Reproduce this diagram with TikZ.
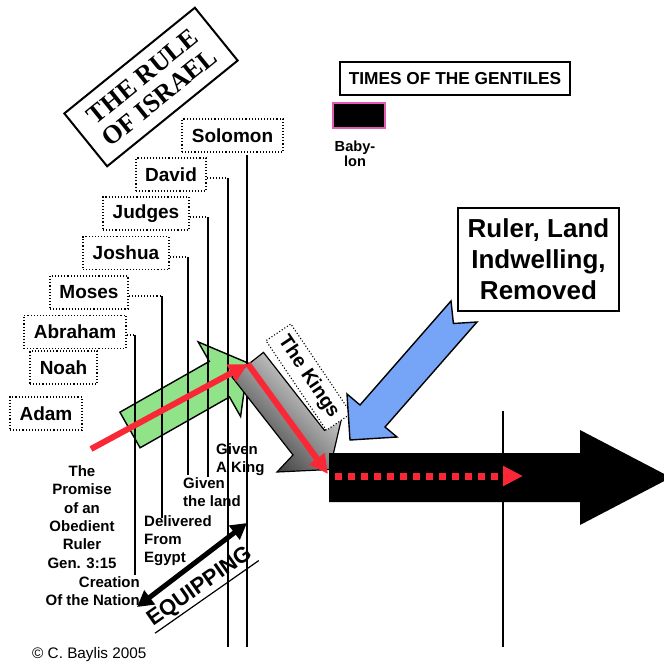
\documentclass[tikz,border=0pt]{standalone}
\usepackage{fontspec}
\setmainfont{Liberation Sans}
\newfontfamily\titlefont{Liberation Serif}
\usetikzlibrary{arrows.meta}
\definecolor{grn}{RGB}{145,227,137}
\definecolor{blu}{RGB}{118,165,247}
\definecolor{redl}{RGB}{250,40,55}
\definecolor{pnk}{RGB}{226,92,178}
\begin{document}
\begin{tikzpicture}[x=1pt,y=-1pt,
  namebox/.style={draw, dotted, line width=1.1pt, fill=white, inner sep=0pt, minimum height=33pt, font=\fontsize{19}{22}\selectfont\bfseries},
  conn/.style={dotted, line width=1.1pt},
  vline/.style={line width=1.3pt},
  lbl/.style={inner sep=0pt, font=\fontsize{15}{18}\selectfont\bfseries},
  blockarrow/.style={draw=black, line width=1.4pt, line join=miter},
  redarrow/.style={draw=redl, line width=6pt, -{Triangle[length=19pt,width=18pt]}},
  plainbox/.style={draw, fill=white, inner sep=0pt}
]
\useasboundingbox (0,0) rectangle (664,667);
\clip (0,0) rectangle (664,667);
\fill[white] (0,0) rectangle (664,667);

% title
\node[plainbox, line width=2pt, rotate=39, minimum width=168pt, minimum height=68pt, align=center,
  font=\titlefont\fontsize{26}{27}\selectfont\bfseries] (title) at (151,87) {THE RULE\\OF ISRAEL};

% green arrow
\fill[grn, blockarrow] (119.9,412.2) -- (209.3,361.4) -- (198.2,341.9) -- (248,363) -- (240.6,416.5) -- (229.5,397) -- (140.1,447.8) -- cycle;

% name boxes
\node[namebox, minimum width=101pt] (solomon) at (232.5,135.5) {Solomon};
\node[namebox, minimum width=70pt] (david) at (171,174.5) {David};
\node[namebox, minimum width=86pt] (judges) at (146,213.5) {Judges};
\node[namebox, minimum width=86pt] (joshua) at (126,253) {Joshua};
\node[namebox, minimum width=78pt] (moses) at (89,292.5) {Moses};
\node[namebox, minimum width=102pt] (abraham) at (75,332) {Abraham};
\node[namebox, minimum width=67pt] (noah) at (63.5,367.5) {Noah};
\node[namebox, minimum width=72pt] (adam) at (46,413.5) {Adam};

% time lines
\coordinate (abT) at (135,335); \coordinate (abB) at (135,575);
\coordinate (moT) at (162,296); \coordinate (moB) at (162,518);
\coordinate (joT) at (188,257); \coordinate (joB) at (188,475);
\coordinate (juT) at (208,217); \coordinate (juB) at (208,477);
\coordinate (daT) at (228,178); \coordinate (daB) at (228,647);
\coordinate (soT) at (247,155); \coordinate (soB) at (247,647);
\coordinate (exT) at (503,411); \coordinate (exB) at (503,647);
\draw[conn] (abraham.east |- abT) -- (abT);
\draw[conn] (moses.east |- moT) -- (moT);
\draw[conn] (joshua.east |- joT) -- (joT);
\draw[conn] (judges.east |- juT) -- (juT);
\draw[conn] (david.east |- daT) -- (daT);
\draw[vline] (abT) -- (abB);
\draw[vline] (moT) -- (moB);
\draw[vline] (joT) -- (joB);
\draw[vline] (juT) -- (juB);
\draw[vline] (daT) -- (daB);
\draw[vline] (soT) -- (soB);
\draw[vline] (exT) -- (exB);

% gray arrow (the kings)
\shade[left color=gray!12, right color=black!80, shading angle=-45, draw=black, line width=1.2pt, line join=miter]
  (232,377) -- (263.5,352.4) -- (324.5,430.4) -- (341.9,416.8) -- (329.7,469.5) -- (277,472) -- (293,455) -- cycle;
\node[draw, dotted, line width=1.1pt, fill=white, rotate=-56, minimum width=108pt, minimum height=30pt, inner sep=0pt,
  font=\fontsize{19.5}{22}\selectfont\bfseries] (kings) at (308.6,377.1) {The Kings};

% blue arrow
\fill[blu, blockarrow] (451,301) -- (453.4,323.5) -- (477,322) -- (385,427) -- (397,437) -- (350,440) -- (347,394) -- (360,405) -- cycle;

% black arrow
\fill[black] (329,453) -- (580,453) -- (580,430) -- (671,477.5) -- (580,525) -- (580,502) -- (329,502) -- cycle;

% red path
\coordinate (rS) at (91,449);
\coordinate (rM) at (248,364);
\coordinate (rE) at (328,474);
\draw[redarrow] (rS) -- (rM);
\draw[redarrow] (rM) -- (rE);
\coordinate (dS) at (335,476);
\coordinate (dE) at (523,476);
\draw[redl, line width=7pt, dash pattern=on 7pt off 6pt, -{Triangle[length=20pt,width=19pt]}] (dS) -- (dE);

% right side boxes
\node[plainbox, line width=2pt, minimum width=230pt, minimum height=33pt,
  font=\fontsize{17.3}{20}\selectfont\bfseries] (times) at (455,78.5) {TIMES OF THE GENTILES};
\node[draw=pnk, fill=black, line width=2.5pt, minimum width=52pt, minimum height=25pt, inner sep=0pt] (babrect) at (359,115.5) {};
\node[inner sep=0pt, align=center, font=\fontsize{14.6}{13.5}\selectfont\bfseries] (babylon) at (355,154) {Baby-\\lon};
\node[plainbox, line width=1.5pt, minimum width=161pt, minimum height=103pt, align=center,
  font=\fontsize{26}{31}\selectfont\bfseries] (ruler) at (538.5,259.5) {Ruler, Land\\Indwelling,\\Removed};

% labels
\node[lbl, align=left, anchor=west] (givenking) at (216,460) {Given\\A King};
\node[lbl, align=left, anchor=west] (givenland) at (183,492) {Given\\the land};
\node[lbl, align=left, anchor=west] (delivered) at (144,541) {Delivered\\From\\Egypt};
\node[inner sep=0pt, align=center, font=\fontsize{15}{18.4}\selectfont\bfseries] (promise) at (82,517) {The\\Promise\\of an\\Obedient\\Ruler\\Gen. 3:15};
\node[lbl, align=right, anchor=east] (creation) at (140,591) {Creation\\Of the Nation};
\node[inner sep=0pt, anchor=west, font=\fontsize{15.3}{18}\selectfont] (copy) at (32,655) {© C. Baylis 2005};

% equipping
\coordinate (eqL) at (137,607);
\coordinate (eqR) at (247,523);
\draw[line width=5pt, {Triangle[length=16pt,width=17pt]}-{Triangle[length=16pt,width=17pt]}] (eqL) -- (eqR);
\node[rotate=35, inner sep=2pt, font=\fontsize{22}{24}\selectfont\bfseries] (equip) at (200,587) {EQUIPPING};
\draw[line width=1.2pt] (equip.south west) -- (equip.south east);
\end{tikzpicture}
\end{document}
